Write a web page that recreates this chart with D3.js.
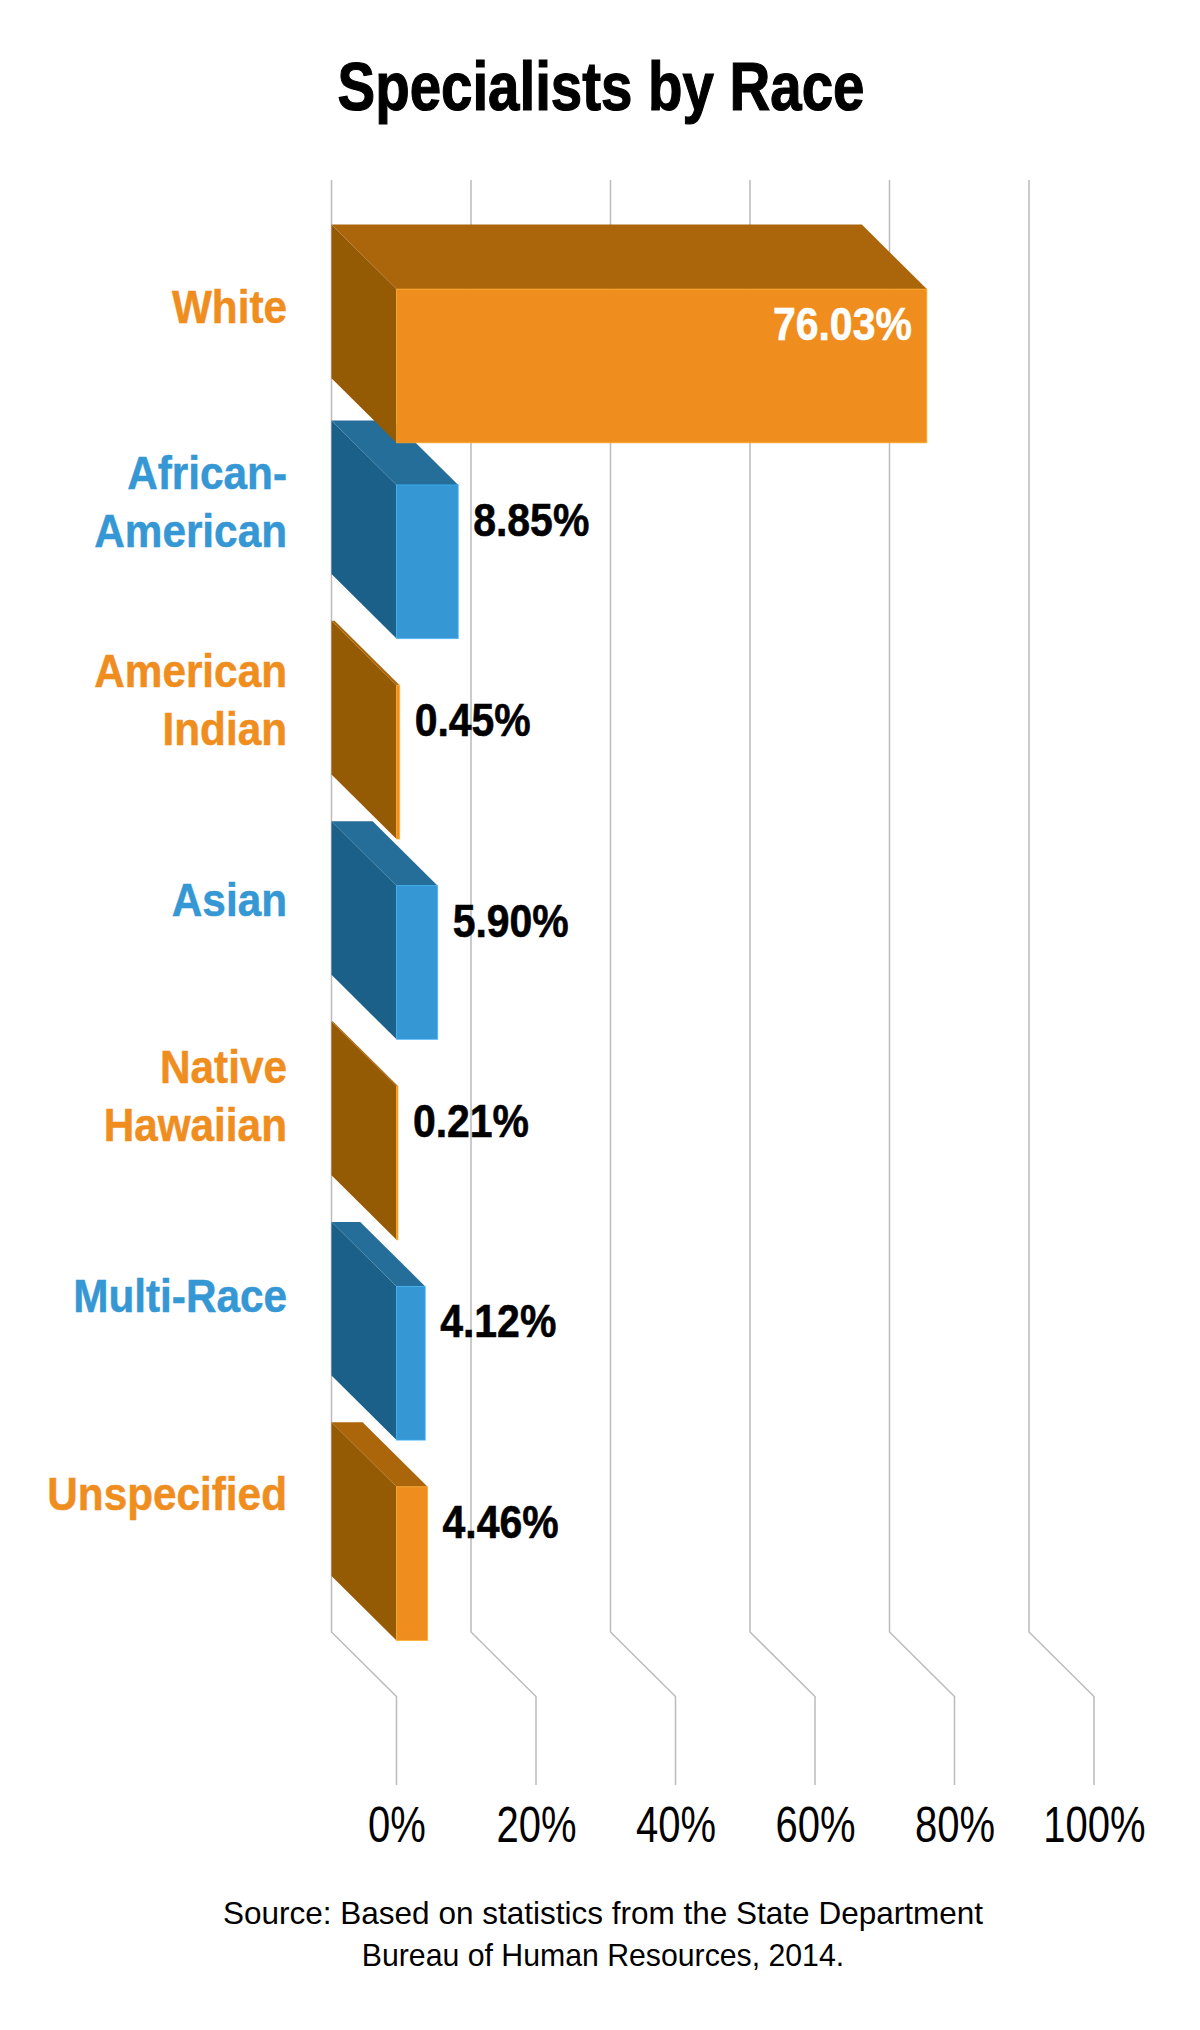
<!DOCTYPE html>
<meta charset="UTF-8">
<style>
body { margin: 0; background: #fff; }
text { font-family: "Liberation Sans", sans-serif; }
.title { font-size: 68px; font-weight: bold; fill: #000; stroke: #000; stroke-width: 1.2px; }
.cat { font-size: 47px; font-weight: bold; stroke-width: 0.5px; }
.val { font-size: 46px; font-weight: bold; stroke-width: 0.6px; }
.tick text { font-size: 50px; fill: #000; }
.src { font-size: 32px; fill: #000; }
.grid { fill: none; stroke: #bbb; stroke-width: 1.5px; }
</style>
<body>
<script src="https://d3js.org/d3.v7.min.js"></script>
<script>

var categories = [["White"], ["African-", "American"], ["American", "Indian"], ["Asian"], ["Native", "Hawaiian"], ["Multi-Race"], ["Unspecified"]];
var values = [76.03, 8.85, 0.45, 5.90, 0.21, 4.12, 4.46];
var valueLabels = ["76.03%", "8.85%", "0.45%", "5.90%", "0.21%", "4.12%", "4.46%"];
var tickValues = [0, 20, 40, 60, 80, 100];
var sourceLines = ["Source: Based on statistics from the State Department", "Bureau of Human Resources, 2014."];

var width = 1200, height = 2030;

// depth of the fake 3d
var dx = 65, dy = 64.5;

var orange = {front: "#ef8e1f", side: "#955a04", top: "#ab660c"},
    blue = {front: "#3597d3", side: "#1b6089", top: "#246e99"};

var svg = d3.select("body").append("svg")
    .attr("width", width)
    .attr("height", height)
    .style("display", "block");

var x = d3.scaleLinear().domain([0, 100]).range([396.5, 1094]);

var band = d3.scaleBand()
    .domain(d3.range(categories.length))
    .range([220, 1576])
    .paddingInner(0.233)
    .paddingOuter(0);

// the first bar sits a little lower than the even step in the original
function y(i) {
  return band(i) + (i == 0 ? 4.6 : 0);
}

// the labels run on a slightly tighter step than the bars
var labelY = d3.scalePoint()
    .domain(d3.range(categories.length))
    .range([323, 1510]);

var line = d3.line();

// no condensed font here, so squeeze the text around its anchor
function squeeze(sel, ax, sx) {
  sel.attr("transform", "translate(" + ax * (1 - sx) + ",0) scale(" + sx + ",1)");
}

// gridlines
svg.selectAll("path.grid")
    .data(tickValues)
    .enter().append("path")
    .attr("class", "grid")
    .attr("d", function(d) {
      return line([
        [x(d) - dx, 180],
        [x(d) - dx, 1632],
        [x(d), 1632 + dy],
        [x(d), 1785]
      ]);
    });

// bars, last one first so the upper bars sit on top
var order = d3.range(categories.length).reverse();

var bar = svg.selectAll("g.bar")
    .data(order)
    .enter().append("g")
    .attr("class", "bar");

bar.each(function(i) {
  var g = d3.select(this),
      c = i % 2 ? blue : orange,
      x0 = x(0),
      x1 = x(values[i]),
      t = y(i) + dy,
      h = band.bandwidth();

  g.append("path")
      .attr("fill", c.side)
      .attr("d", line([[x0 - dx, t - dy], [x0, t], [x0, t + h], [x0 - dx, t + h - dy]]) + "Z");
  g.append("path")
      .attr("fill", c.top)
      .attr("d", line([[x0 - dx, t - dy], [x1 - dx, t - dy], [x1, t], [x0, t]]) + "Z");
  g.append("rect")
      .attr("fill", c.front)
      .attr("stroke", d3.color(c.front).brighter(0.5))
      .attr("stroke-opacity", 0.7)
      .attr("x", x0)
      .attr("y", t)
      .attr("width", x1 - x0)
      .attr("height", h);
});

// category labels
categories.forEach(function(lines, i) {
  var c = i % 2 ? blue.front : orange.front;
  var t = svg.append("text")
      .attr("class", "cat")
      .attr("text-anchor", "end")
      .attr("fill", c)
      .attr("stroke", c)
      .attr("x", 287)
      .attr("y", labelY(i) - (lines.length - 1) * 31.5)
      .call(squeeze, 287, 0.9);
  t.selectAll("tspan")
      .data(lines)
      .enter().append("tspan")
      .attr("x", 287)
      .attr("dy", function(d, j) { return j ? 58 : 0; })
      .text(function(d) { return d; });
});

// value labels
values.forEach(function(d, i) {
  var big = d > 50,
      ax = big ? x(d) - 15 : x(d) + 15;
  svg.append("text")
      .attr("class", "val")
      .attr("x", ax)
      .attr("y", y(i) + dy + 51)
      .attr("text-anchor", big ? "end" : "start")
      .attr("fill", big ? "#fff" : "#000")
      .attr("stroke", big ? "#fff" : "#000")
      .call(squeeze, ax, 0.89)
      .text(valueLabels[i]);
});

// x axis labels
var axis = d3.axisBottom(x)
    .tickValues(tickValues)
    .tickFormat(function(d) { return d + "%"; })
    .tickSize(0)
    .tickPadding(0);

svg.append("g")
    .attr("transform", "translate(0,1806)")
    .call(axis)
    .call(function(g) { g.select(".domain").remove(); })
    .attr("font-family", null)
    .attr("font-size", null)
    .selectAll(".tick text")
    .attr("transform", "scale(0.8,1)");

// title and source
svg.append("text")
    .attr("class", "title")
    .attr("x", 601)
    .attr("y", 110)
    .attr("text-anchor", "middle")
    .call(squeeze, 601, 0.83)
    .text("Specialists by Race");

sourceLines.forEach(function(d, i) {
  svg.append("text")
      .attr("class", "src")
      .attr("x", 603)
      .attr("y", 1924 + i * 42)
      .attr("text-anchor", "middle")
      .call(squeeze, 603, i ? 0.945 : 0.985)
      .text(d);
});

</script>
</body>
